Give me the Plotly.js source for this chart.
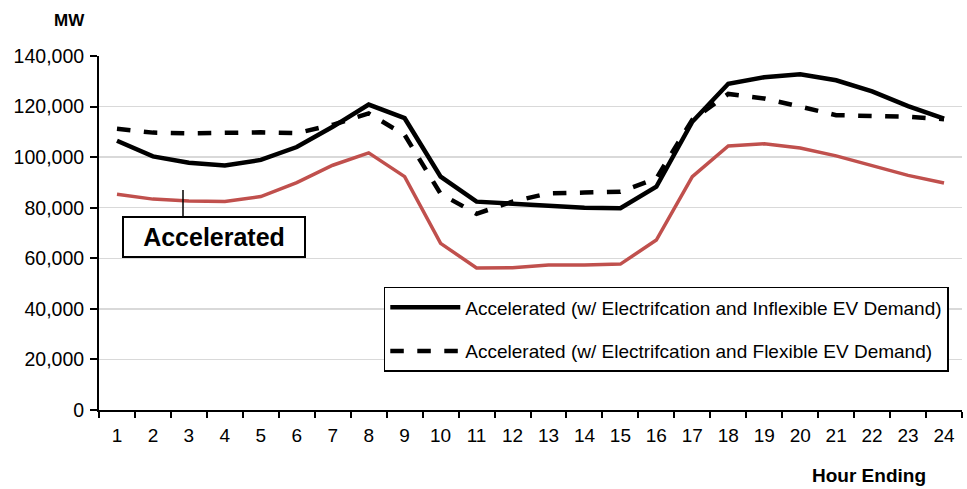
<!DOCTYPE html>
<html>
<head>
<meta charset="utf-8">
<script src="https://cdn.plot.ly/plotly-3.0.1.min.js"></script>
<style>
html,body{margin:0;padding:0;background:#fff;}
#chart{width:967px;height:489px;}
</style>
</head>
<body>
<div id="chart"></div>
<script>
const hours = ["1","2","3","4","5","6","7","8","9","10","11","12","13","14","15","16","17","18","19","20","21","22","23","24"];
const inflexible = [106500,100300,97800,96700,98900,104000,112000,120800,115400,92300,82400,81700,80800,80000,79800,88300,114000,129000,131600,132800,130400,126000,120200,115200];
const flexible = [111200,109700,109400,109800,109800,109500,112800,117300,108800,85500,77600,82400,85700,86000,86300,91600,114800,125000,123200,120000,116600,116300,116000,115000];
const accelerated = [85300,83400,82700,82500,84400,89900,96800,101700,92300,65900,56200,56300,57300,57300,57700,67200,92300,104400,105300,103600,100500,96500,92800,89800];
const yTicks = [0,20000,40000,60000,80000,100000,120000,140000];
const yTickText = ["0","20,000","40,000","60,000","80,000","100,000","120,000","140,000"];
const names = ["Accelerated (w/ Electrifcation and Inflexible EV Demand)","Accelerated (w/ Electrifcation and Flexible EV Demand)"];

const FONT = "'Liberation Sans', Arial, sans-serif";

const traces = [
  {x: hours, y: accelerated, type: 'scatter', mode: 'lines', line: {color: '#C0504D', width: 3.5}, showlegend: false, hoverinfo: 'skip'},
  {x: hours, y: inflexible, type: 'scatter', mode: 'lines', name: names[0], legendgroup: 'a', line: {color: '#000000', width: 4.5}},
  {x: hours, y: flexible, type: 'scatter', mode: 'lines', name: names[1], legendgroup: 'b', line: {color: '#000000', width: 4.5, dash: 'dash'}}
];

const layout = {
  width: 967, height: 489,
  margin: {l: 99, r: 5, t: 56, b: 79, pad: 0},
  paper_bgcolor: '#ffffff', plot_bgcolor: '#ffffff',
  font: {family: FONT, color: '#000000', size: 19},
  xaxis: {
    type: 'category', range: [-0.5, 23.5], tickson: 'boundaries', dtick: 1, tickangle: 0,
    showgrid: false, showline: true, linecolor: '#000', linewidth: 2,
    ticks: 'outside', ticklen: 6, tickwidth: 2, tickcolor: '#000', ticklabelstandoff: 7,
    tickfont: {family: FONT, size: 19, color: '#000'}, fixedrange: true, automargin: false
  },
  yaxis: {
    range: [0, 140000], tickvals: yTicks, ticktext: yTickText,
    showgrid: true, gridcolor: '#d9d9d9', gridwidth: 1.5,
    showline: true, linecolor: '#000', linewidth: 2, zeroline: false,
    ticks: 'outside', ticklen: 7, tickwidth: 2, tickcolor: '#000', ticklabelstandoff: 2,
    tickfont: {family: FONT, size: 19.5, color: '#000'}, fixedrange: true, automargin: false
  },
  showlegend: true,
  legend: {
    x: 0.330, y: 0.3475, xanchor: 'left', yanchor: 'top',
    bordercolor: '#000', borderwidth: 1.5, bgcolor: '#fff',
    font: {family: FONT, size: 19, color: '#000'},
    itemwidth: 70, traceorder: 'grouped', tracegroupgap: 16
  },
  shapes: [
    {type: 'line', xref: 'paper', yref: 'paper', x0: (183-99)/863, x1: (183-99)/863, y0: (410-190)/354, y1: (410-217)/354, line: {color: '#000', width: 1.5}}
  ],
  annotations: [
    {xref: 'paper', yref: 'paper', x: (214-99)/863, y: (410-237)/354, xanchor: 'center', yanchor: 'middle',
     text: '<b>Accelerated</b>', showarrow: false,
     font: {family: FONT, size: 25, color: '#000'}, bordercolor: '#000', borderwidth: 2, bgcolor: '#fff',
     width: 178, height: 36, align: 'center'},
    {xref: 'paper', yref: 'paper', x: (52-99)/863, y: (410-20)/354, xanchor: 'left', yanchor: 'middle', text: '<b>MW</b>', showarrow: false,
     font: {family: FONT, size: 17, color: '#000'}},
    {xref: 'paper', yref: 'paper', x: (928-99)/863, y: (410-475)/354, xanchor: 'right', yanchor: 'middle', text: '<b>Hour Ending</b>', showarrow: false,
     font: {family: FONT, size: 19, color: '#000'}}
  ]
};

Plotly.newPlot('chart', traces, layout, {displayModeBar: false, staticPlot: true});
</script>
</body>
</html>
